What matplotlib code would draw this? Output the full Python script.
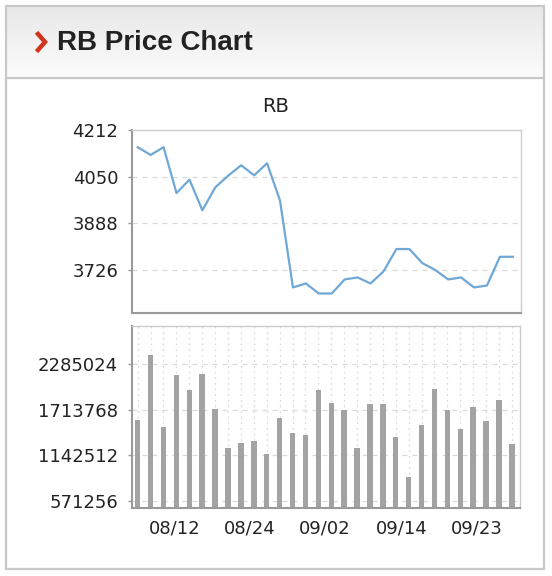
import numpy as np
import matplotlib
matplotlib.use("Agg")
import matplotlib.pyplot as plt
from matplotlib.colors import LinearSegmentedColormap
from matplotlib.patches import Rectangle
from matplotlib.lines import Line2D

# daily close price (RB)
price = [4153, 4126, 4153, 3993, 4040, 3933, 4013, 4054, 4090, 4055,
         4097, 3967, 3664, 3678, 3643, 3643, 3692, 3699, 3678, 3720,
         3798, 3798, 3749, 3725, 3692, 3699, 3664, 3671, 3771, 3771]

# daily volume
volume = [1588094, 2388372, 1495994, 2139452, 1952762, 2151898, 1725000,
          1239606, 1296858, 1321750, 1164930, 1608008, 1421318, 1396426,
          1961474, 1799676, 1712554, 1230894, 1778518, 1787230, 1371534,
          873694, 1517152, 1965208, 1712554, 1471102, 1741180, 1566936,
          1837014, 1289390]

price_ticks = [3726, 3888, 4050, 4212]
volume_ticks = [571256, 1142512, 1713768, 2285024]
date_labels = ["08/12", "08/24", "09/02", "09/14", "09/23"]

W, H = 552, 576


def px(x, y):
    # pixel (top-left origin) -> figure fraction
    return x / W, 1 - y / H


def rect(left, top, right, bottom):
    return [left / W, 1 - bottom / H, (right - left) / W, (bottom - top) / H]


def style_axes(ax):
    for s in ["top", "right"]:
        ax.spines[s].set_color("#cccccc")
        ax.spines[s].set_linewidth(1.0)
    for s in ["left", "bottom"]:
        ax.spines[s].set_color("#9a9a9a")
        ax.spines[s].set_linewidth(1.5)
    ax.tick_params(axis="y", length=3, width=1, color="#999999", pad=7,
                   labelsize=13, labelcolor="#222222")
    ax.set_axisbelow(True)


def main():
    plt.rcParams["font.family"] = ["DejaVu Sans"]
    fig = plt.figure(figsize=(W / 100, H / 100), dpi=100)
    fig.patch.set_facecolor("white")

    # header band with gradient
    ax_h = fig.add_axes(rect(6, 6, 544, 78))
    grad = np.linspace(0, 1, 100).reshape(-1, 1)
    cmap = LinearSegmentedColormap.from_list("hdr", ["#e8e8e8", "#fcfcfc"])
    ax_h.imshow(grad, aspect="auto", cmap=cmap)
    ax_h.axis("off")

    # outer frame + separator
    fig.patches.append(Rectangle(px(6, 569), 538 / W, 563 / H, transform=fig.transFigure,
                                 fill=False, edgecolor="#c8c8c8", linewidth=1.6))
    fig.lines.append(Line2D([6 / W, 544 / W], [1 - 78 / H] * 2, transform=fig.transFigure,
                            color="#c8c8c8", linewidth=1.6))

    # red chevron
    cx, cy = zip(px(38, 34), px(45, 42), px(38, 50))
    fig.lines.append(Line2D(cx, cy, transform=fig.transFigure, color="#d2341c",
                            linewidth=3.2, solid_joinstyle="miter"))
    fig.text(*px(57, 43), "RB Price Chart", fontsize=20, fontweight="bold",
             family="Liberation Sans", color="#222222", va="center", ha="left")
    fig.text(*px(276, 106), "RB", fontsize=14, color="#222222", va="center", ha="center")

    x = np.arange(len(price))
    xlim = (-0.44, len(price) - 1 + 0.63)

    # price chart
    ax1 = fig.add_axes(rect(132, 130, 521, 313))
    ax1.plot(x, price, color="#6fa8d6", linewidth=1.6)
    ax1.set_xlim(*xlim)
    ax1.set_ylim(3575, 4213)
    ax1.set_yticks(price_ticks, [str(v) for v in price_ticks])
    ax1.set_xticks([])
    ax1.yaxis.grid(True, color="#dadada", linestyle=(0, (4, 4)), linewidth=0.9)
    style_axes(ax1)

    # volume chart
    ax2 = fig.add_axes(rect(132, 326, 520, 508))
    ax2.bar(x, volume, width=0.42, color="#a3a3a3")
    ax2.set_xlim(*xlim)
    ax2.set_ylim(487868, 2753000)
    ax2.set_yticks(volume_ticks, [str(v) for v in volume_ticks])
    ax2.set_xticks(x, minor=True)
    ax2.set_xticks([2.83, 8.67, 14.52, 20.43, 26.32], date_labels)
    ax2.tick_params(axis="x", which="both", length=0, pad=8, labelsize=13,
                    labelcolor="#222222")
    ax2.yaxis.grid(True, color="#dadada", linestyle=(0, (4, 4)), linewidth=0.9)
    ax2.xaxis.grid(True, which="minor", color="#dadada", linestyle=(0, (1.5, 3)),
                   linewidth=0.9)
    style_axes(ax2)

    fig.savefig("out.png", dpi=100)


if __name__ == "__main__":
    main()
